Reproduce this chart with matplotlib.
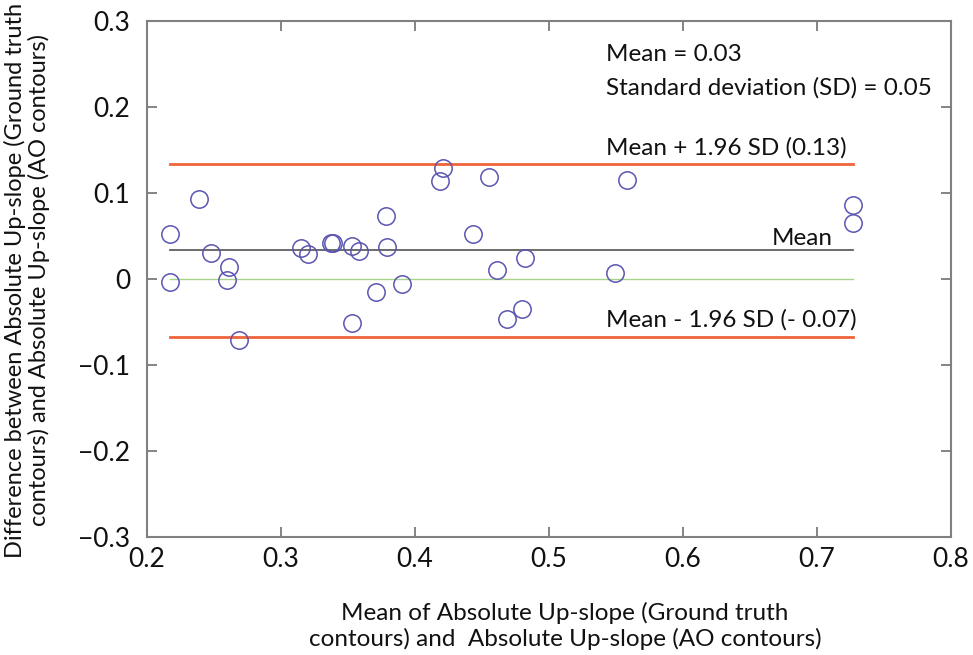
import matplotlib
matplotlib.use("Agg")
import matplotlib.pyplot as plt
import numpy as np

# ---- data ----
mean_vals = [0.217, 0.239, 0.248, 0.261, 0.260, 0.217, 0.269, 0.315, 0.320, 0.337,
             0.339, 0.353, 0.358, 0.378, 0.379, 0.371, 0.390, 0.353, 0.419, 0.421,
             0.455, 0.558, 0.443, 0.482, 0.461, 0.549, 0.480, 0.469, 0.727, 0.727]
diff_vals = [0.052, 0.093, 0.030, 0.014, -0.001, -0.004, -0.071, 0.036, 0.029, 0.042,
             0.042, 0.038, 0.032, 0.073, 0.037, -0.015, -0.006, -0.051, 0.114, 0.129,
             0.119, 0.115, 0.052, 0.024, 0.011, 0.007, -0.035, -0.047, 0.086, 0.065]
mean_diff = 0.0335
upper_loa = 0.134
lower_loa = -0.068
zero_line = 0.0

x_ticks = [0.2, 0.3, 0.4, 0.5, 0.6, 0.7, 0.8]
x_tick_labels = ["0.2", "0.3", "0.4", "0.5", "0.6", "0.7", "0.8"]
y_ticks = [-0.3, -0.2, -0.1, 0.0, 0.1, 0.2, 0.3]
y_tick_labels = ["\u22120.3", "\u22120.2", "\u22120.1", "0", "0.1", "0.2", "0.3"]

plt.rcParams['font.family'] = ['Lato', 'DejaVu Sans']

fig = plt.figure(figsize=(9.73, 6.55), dpi=100)
ax = fig.add_axes([147/973, 1-537/655, (951-147)/973, (537-21)/655])

xmin, xmax = min(mean_vals), max(mean_vals)
ax.plot([xmin, xmax], [zero_line, zero_line], color='#a8d48a', lw=1.0, zorder=1)
ax.plot([xmin, xmax], [mean_diff, mean_diff], color='#606060', lw=1.3, zorder=1)
ax.plot([xmin, xmax], [upper_loa, upper_loa], color='#f0643c', lw=2.0, zorder=1)
ax.plot([xmin, xmax], [lower_loa, lower_loa], color='#f0643c', lw=2.0, zorder=1)

ax.plot(mean_vals, diff_vals, linestyle='none', marker='o', markersize=12.5,
        markerfacecolor='none', markeredgecolor='#5a55b0', markeredgewidth=1.1, zorder=3)

ax.set_xlim(0.2, 0.8)
ax.set_ylim(-0.3, 0.3)
ax.set_xticks(x_ticks)
ax.set_xticklabels(x_tick_labels)
ax.set_yticks(y_ticks)
ax.set_yticklabels(y_tick_labels)
ax.tick_params(direction='in', length=7, width=1.2, color='#707070',
               labelsize=19, top=True, right=True, labelcolor='#111111')
ax.tick_params(axis='y', pad=12)
ax.tick_params(axis='x', pad=7)
for s in ax.spines.values():
    s.set_color('#808080')
    s.set_linewidth(1.5)

tc = '#111111'
fs = 17.5
ax.text(0.5425, 0.261, "Mean = 0.03", fontsize=fs, color=tc, va='center', ha='left')
ax.text(0.5425, 0.222, "Standard deviation (SD) = 0.05", fontsize=fs, color=tc, va='center', ha='left')
ax.text(0.5425, 0.153, "Mean + 1.96 SD (0.13)", fontsize=fs, color=tc, va='center', ha='left')
ax.text(0.712, 0.047, "Mean", fontsize=fs, color=tc, va='center', ha='right')
ax.text(0.5425, -0.048, "Mean - 1.96 SD (- 0.07)", fontsize=fs, color=tc, va='center', ha='left')

fig.text(27/973, 1-280/655, "Difference between Absolute Up-slope (Ground truth\ncontours) and Absolute Up-slope (AO contours)",
         rotation=90, ha='center', va='center', multialignment='center', fontsize=17, color=tc,
         linespacing=1.15)
fig.text(565/973, 1-626/655, "Mean of Absolute Up-slope (Ground truth\ncontours) and  Absolute Up-slope (AO contours)",
         ha='center', va='center', multialignment='center', fontsize=17.5, color=tc, linespacing=1.25)

fig.savefig("out.png", dpi=100)
